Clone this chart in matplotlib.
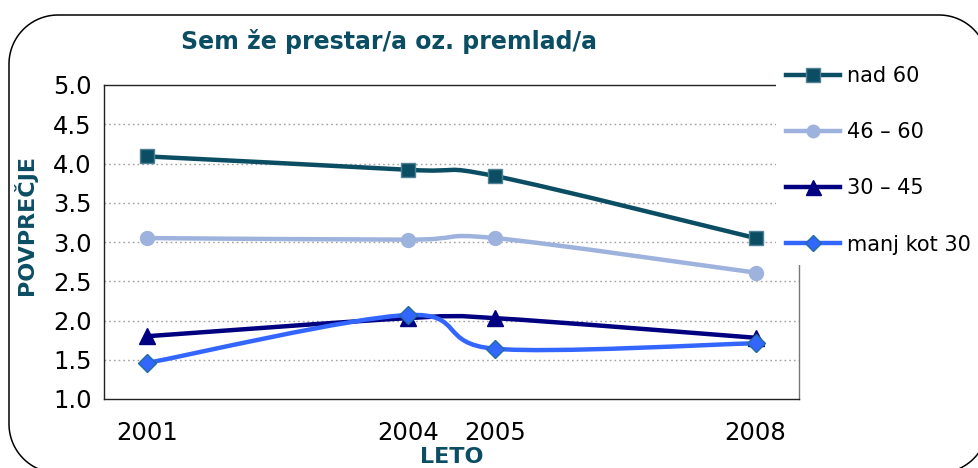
import matplotlib
matplotlib.use("Agg")
import numpy as np
import matplotlib.pyplot as plt
from matplotlib.path import Path
from matplotlib.patches import PathPatch
from matplotlib.lines import Line2D
from matplotlib.transforms import Affine2D

# ---------------- data ----------------
years = [2001, 2004, 2005, 2008]
series_names = ["nad 60", "46 – 60", "30 – 45", "manj kot 30"]
nad_60 = [4.09, 3.92, 3.84, 3.05]
s46_60 = [3.05, 3.03, 3.05, 2.61]
s30_45 = [1.80, 2.03, 2.03, 1.78]
manj_30 = [1.46, 2.07, 1.64, 1.71]
y_ticks = [1.0, 1.5, 2.0, 2.5, 3.0, 3.5, 4.0, 4.5, 5.0]
title = "Sem že prestar/a oz. premlad/a"
x_label = "LETO"
y_label = "POVPREČJE"

colors = ["#0B4D63", "#9DB2DD", "#000080", "#3366FF"]
edge_colors = ["#4F8196", "#9DB2DD", "#000080", "#1F6E9C"]
markers = ["s", "o", "^", "D"]
msizes = [10.5, 10, 12, 9]
TEAL = "#0B4D63"


def smooth_path(xs, ys):
    """Catmull-Rom style Bezier path (like Excel's smoothed lines)."""
    pts = list(zip(xs, ys))
    n = len(pts)
    verts = [pts[0]]
    codes = [Path.MOVETO]
    for i in range(n - 1):
        p0 = pts[i - 1] if i > 0 else pts[i]
        p1 = pts[i]
        p2 = pts[i + 1]
        p3 = pts[i + 2] if i + 2 < n else pts[i + 1]
        c1 = (p1[0] + (p2[0] - p0[0]) / 6.0, p1[1] + (p2[1] - p0[1]) / 6.0)
        c2 = (p2[0] - (p3[0] - p1[0]) / 6.0, p2[1] - (p3[1] - p1[1]) / 6.0)
        verts += [c1, c2, p2]
        codes += [Path.CURVE4] * 3
    return Path(verts, codes)


def rounded_rect_path(x0, y0, x1, y1, r):
    """Rounded rectangle outline in canvas-pixel units (y up)."""
    pts = []
    for cx, cy, a0 in [(x1 - r, y1 - r, 0), (x0 + r, y1 - r, 90),
                       (x0 + r, y0 + r, 180), (x1 - r, y0 + r, 270)]:
        ang = np.radians(np.linspace(a0, a0 + 90, 30))
        pts += list(zip(cx + r * np.cos(ang), cy + r * np.sin(ang)))
    pts.append(pts[0])
    return Path(pts)


fig = plt.figure(figsize=(9.79, 4.68), dpi=100)
W, H = 979, 468
ax = fig.add_axes([104 / W, 1 - 399 / H, 695 / W, 314 / H])

all_series = [nad_60, s46_60, s30_45, manj_30]
handles = []
for i, vals in enumerate(all_series):
    patch = PathPatch(smooth_path(years, vals), facecolor="none", edgecolor=colors[i],
                      lw=3.2, capstyle="round", joinstyle="round", zorder=3 + i)
    ax.add_patch(patch)
    ax.plot(years, vals, linestyle="none", marker=markers[i], markersize=msizes[i],
            markerfacecolor=colors[i], markeredgecolor=edge_colors[i], markeredgewidth=1.0,
            zorder=10 + i)
    handles.append(Line2D([], [], color=colors[i], lw=3.2, marker=markers[i],
                          markersize=msizes[i] * 0.9, markerfacecolor=colors[i],
                          markeredgecolor=edge_colors[i]))

ax.set_xlim(2000.5, 2008.5)
ax.set_ylim(1.0, 5.0)
ax.set_xticks(years)
ax.set_xticklabels([str(y) for y in years])
ax.set_yticks(y_ticks)
ax.set_yticklabels([f"{v:.1f}" for v in y_ticks])
ax.tick_params(axis="both", length=0, labelsize=17.5, colors="#000000")
ax.tick_params(axis="x", pad=16)
ax.tick_params(axis="y", pad=9)

for v in y_ticks[1:-1]:
    ax.axhline(v, color="#A0A0A0", lw=1.0, linestyle=(0, (1.2, 2.2)), zorder=1)

for side in ["top", "left", "bottom"]:
    ax.spines[side].set_color("#222222")
    ax.spines[side].set_linewidth(1.0)
ax.spines["right"].set_color("#777777")
ax.spines["right"].set_linewidth(1.0)

ax.set_xlabel(x_label, fontsize=16, fontweight="bold", color=TEAL)
ax.xaxis.set_label_coords(0.5, -0.152)
ax.set_ylabel(y_label, fontsize=16, fontweight="bold", color=TEAL)
ax.yaxis.set_label_coords(-0.097, 0.553)

fig.text(389 / W, 1 - 49 / H, title, fontsize=17, fontweight="bold", color=TEAL,
         ha="center", va="baseline")

leg = ax.legend(handles, series_names, loc="upper left",
                bbox_to_anchor=(776 / W, 1 - 56 / H), bbox_transform=fig.transFigure,
                borderaxespad=0, frameon=True, fancybox=False, facecolor="white",
                edgecolor="none", framealpha=1.0, fontsize=15, handlelength=2.55,
                handletextpad=0.35, labelspacing=1.73, borderpad=0.5)
leg.set_zorder(50)

# rounded outer border in canvas-pixel units mapped through figure fraction
px = Affine2D().scale(1.0 / W, 1.0 / H) + fig.transFigure
border = PathPatch(rounded_rect_path(9, H - 473, 988, H - 15, 49),
                   transform=px, facecolor="none",
                   edgecolor="#000000", lw=1.1, zorder=100)
fig.add_artist(border)
border.set_clip_box(fig.bbox)
border.set_clip_on(True)

fig.savefig("out.png", dpi=100, bbox_inches=None)
